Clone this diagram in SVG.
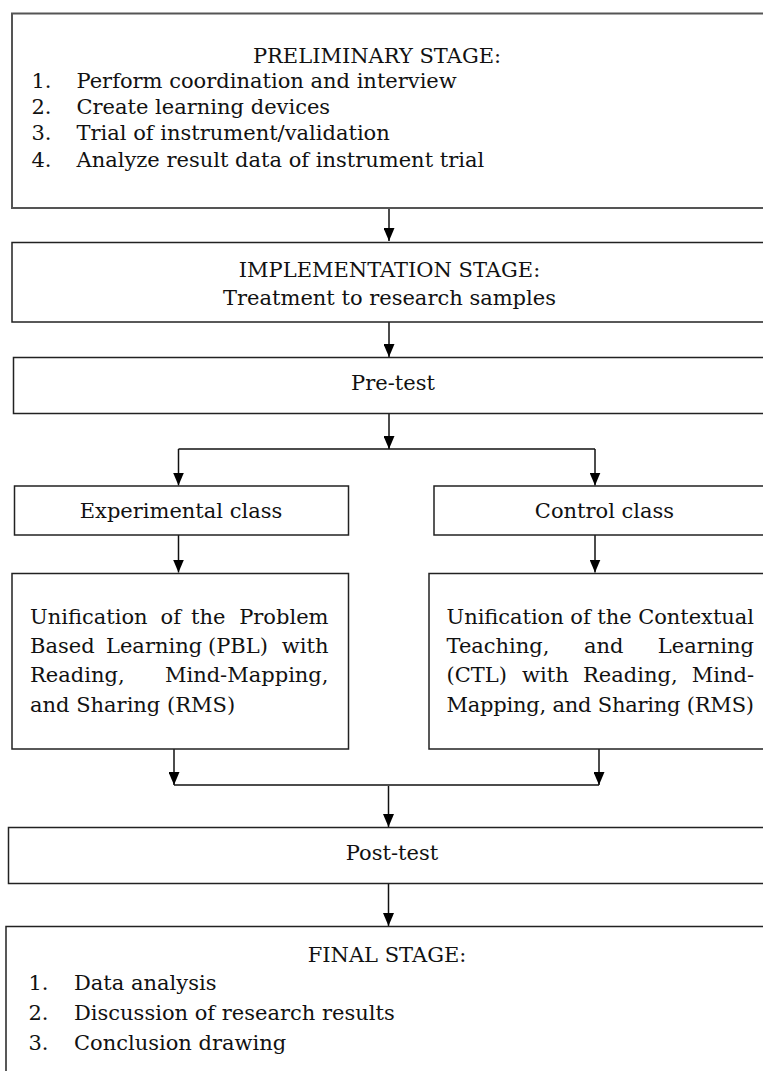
<svg xmlns="http://www.w3.org/2000/svg" width="763" height="1071" viewBox="0 0 763 1071">
<style>
text { font-family: "DejaVu Serif", "Liberation Serif", serif; font-size: 21px; fill: #111; }
.c { text-anchor: middle; }
.e { text-anchor: end; }
.box { fill: #fff; stroke: #222; stroke-width: 1.5; }
.box0 { fill: #fff; stroke: #555; stroke-width: 2; }
.ln { fill: none; stroke: #111; stroke-width: 1.5; }
.ar { fill: none; stroke: #111; stroke-width: 1.5; marker-end: url(#ah); }
</style>
<defs>
<marker id="ah" markerUnits="userSpaceOnUse" markerWidth="13" markerHeight="11" refX="13" refY="5.5" orient="auto">
<path d="M0,0 L13,5.5 L0,11 z" fill="#000"/>
</marker>
</defs>
<rect width="763" height="1071" fill="#fff"/>

<g id="connectors">
<path class="ar" d="M389,208 V241"/>
<path class="ar" d="M389,322 V357"/>
<path class="ar" d="M389,413.5 V449"/>
<path class="ln" d="M178.5,449 H595"/>
<path class="ar" d="M178.5,449 V485.5"/>
<path class="ar" d="M595,449 V485.5"/>
<path class="ar" d="M178.5,535 V572.5"/>
<path class="ar" d="M595,535 V572.5"/>
<path class="ar" d="M174,749 V785"/>
<path class="ar" d="M599,749 V785"/>
<path class="ln" d="M174,785 H599"/>
<path class="ar" d="M388.5,786 V827"/>
<path class="ar" d="M388.5,883.5 V926"/>
</g>

<g id="preliminary">
<rect class="box0" x="12" y="13.5" width="760" height="194.5"/>
<text class="c" x="377" y="62.5">PRELIMINARY STAGE:</text>
<text x="31.5" y="87.5">1.</text><text x="76.5" y="87.5">Perform coordination and interview</text>
<text x="31.5" y="113.5">2.</text><text x="76.5" y="113.5">Create learning devices</text>
<text x="31.5" y="140">3.</text><text x="76.5" y="140">Trial of instrument/validation</text>
<text x="31.5" y="167">4.</text><text x="76.5" y="167">Analyze result data of instrument trial</text>
</g>

<g id="implementation">
<rect class="box" x="12" y="242.5" width="760" height="79.5"/>
<text class="c" x="389.5" y="277">IMPLEMENTATION STAGE:</text>
<text class="c" x="389.5" y="305">Treatment to research samples</text>
</g>

<g id="pretest">
<rect class="box" x="13.5" y="357.5" width="760" height="56"/>
<text class="c" x="393" y="390">Pre-test</text>
</g>

<g id="experimental">
<rect class="box" x="14.5" y="486" width="334" height="49"/>
<text class="c" x="181" y="518">Experimental class</text>
</g>

<g id="control">
<rect class="box" x="434" y="486" width="340" height="49"/>
<text class="c" x="604.5" y="518">Control class</text>
</g>

<g id="pbl">
<rect class="box" x="12" y="573.5" width="336.5" height="175.5"/>
<text x="30" y="623.5">Unification</text><text x="160.5" y="623.5">of</text><text x="191" y="623.5">the</text><text class="e" x="328.5" y="623.5">Problem</text>
<text x="30" y="652.5">Based</text><text x="106" y="652.5">Learning</text><text x="208" y="652.5">(PBL)</text><text class="e" x="328.5" y="652.5">with</text>
<text x="30" y="682">Reading,</text><text class="e" x="328.5" y="682">Mind-Mapping,</text>
<text x="30" y="711.5">and Sharing (RMS)</text>
</g>

<g id="ctl">
<rect class="box" x="429" y="573.5" width="345" height="175.5"/>
<text x="446.5" y="623.5" textLength="307.5" lengthAdjust="spacing">Unification of the Contextual</text>
<text x="446.5" y="652.5">Teaching,</text><text x="584" y="652.5">and</text><text class="e" x="754" y="652.5">Learning</text>
<text x="446.5" y="682">(CTL)</text><text x="522" y="682">with</text><text x="583" y="682">Reading,</text><text class="e" x="754" y="682">Mind-</text>
<text x="446.5" y="711.5" textLength="307.5" lengthAdjust="spacing">Mapping, and Sharing (RMS)</text>
</g>

<g id="posttest">
<rect class="box" x="8.5" y="827.5" width="765" height="56"/>
<text class="c" x="392" y="860">Post-test</text>
</g>

<g id="final">
<rect class="box" x="6" y="926.5" width="767" height="160"/>
<text class="c" x="387" y="962">FINAL STAGE:</text>
<text x="28.5" y="990">1.</text><text x="74" y="990">Data analysis</text>
<text x="28.5" y="1019.5">2.</text><text x="74" y="1019.5">Discussion of research results</text>
<text x="28.5" y="1050">3.</text><text x="74" y="1050">Conclusion drawing</text>
</g>
</svg>
